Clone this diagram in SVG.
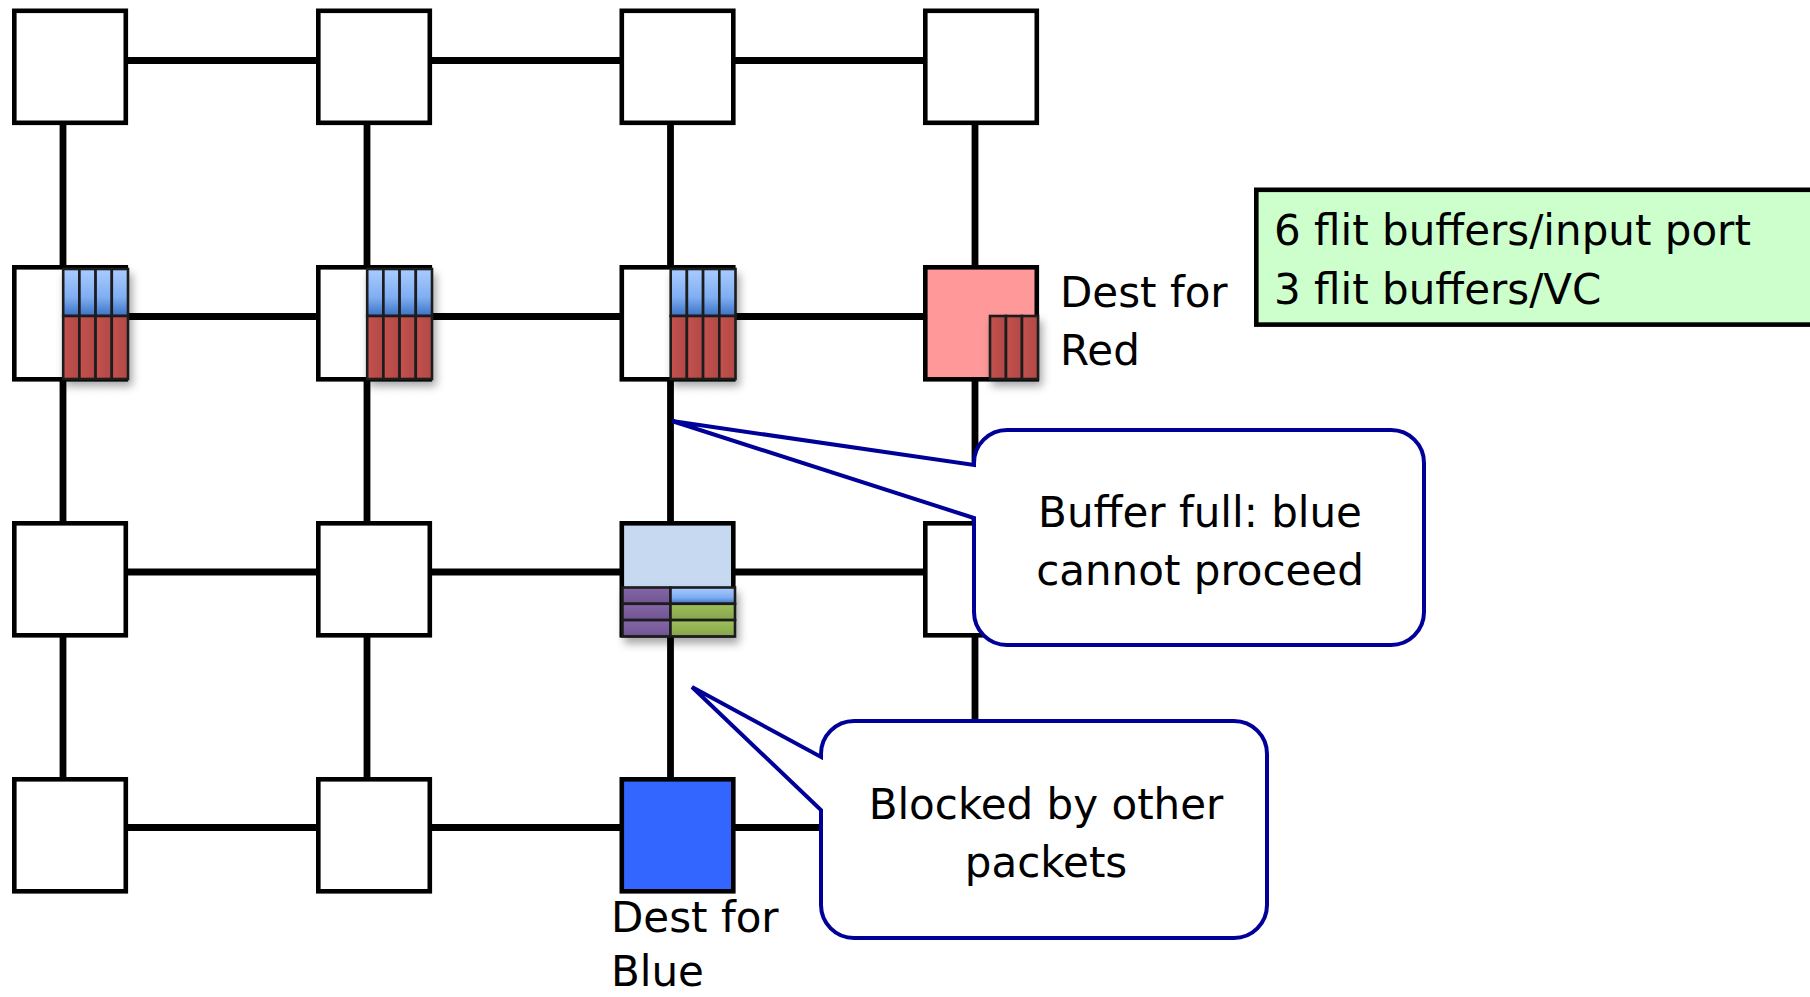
<svg xmlns="http://www.w3.org/2000/svg" width="1810" height="997" viewBox="0 0 1810 997">
<style>
.node{fill:#fff;stroke:#000;stroke-width:4.6}
.link{stroke:#000;stroke-width:6.8;fill:none}
.bar{stroke:#1c1c1c;stroke-width:2.6}
.blue{fill:url(#gBlue)}
.red{fill:url(#gRed)}
.purple{fill:url(#gPurple)}
.green{fill:url(#gGreen)}
.txt{font-family:"DejaVu Sans","Liberation Sans",sans-serif;font-size:42px;fill:#000}
.mid{text-anchor:middle}
.callout{fill:#fff;stroke:#000099;stroke-width:4;stroke-linejoin:miter}
</style>
<defs>
<linearGradient id="gBlue" x1="0" y1="0" x2="0" y2="1">
<stop offset="0" stop-color="#a9ccff"/><stop offset="0.6" stop-color="#80aef2"/><stop offset="1" stop-color="#3b72c4"/>
</linearGradient>
<linearGradient id="gRed" x1="0" y1="0" x2="1" y2="0">
<stop offset="0" stop-color="#c4524f"/><stop offset="1" stop-color="#b14946"/>
</linearGradient>
<linearGradient id="gPurple" x1="0" y1="0" x2="0" y2="1">
<stop offset="0" stop-color="#8566a8"/><stop offset="1" stop-color="#6f5590"/>
</linearGradient>
<linearGradient id="gGreen" x1="0" y1="0" x2="0" y2="1">
<stop offset="0" stop-color="#9fc05c"/><stop offset="1" stop-color="#86a54b"/>
</linearGradient>
<filter id="shadow" x="-20%" y="-20%" width="150%" height="150%">
<feDropShadow dx="3" dy="6" stdDeviation="4" flood-color="#000" flood-opacity="0.35"/>
</filter>
</defs>

<g id="connectors">
<line class="link" x1="63" y1="60.5" x2="975" y2="60.5"/>
<line class="link" x1="63" y1="316.5" x2="975" y2="316.5"/>
<line class="link" x1="63" y1="572" x2="975" y2="572"/>
<line class="link" x1="63" y1="827.5" x2="975" y2="827.5"/>
<line class="link" x1="63" y1="60.5" x2="63" y2="827.5"/>
<line class="link" x1="367" y1="60.5" x2="367" y2="827.5"/>
<line class="link" x1="670.5" y1="60.5" x2="670.5" y2="827.5"/>
<line class="link" x1="975" y1="60.5" x2="975" y2="827.5"/>
</g>

<g id="n11"><rect class="node" x="14.3" y="10.8" width="111.5" height="112"/></g>
<g id="n12"><rect class="node" x="318.3" y="10.8" width="111.5" height="112"/></g>
<g id="n13"><rect class="node" x="621.8" y="10.8" width="111.5" height="112"/></g>
<g id="n14"><rect class="node" x="925.3" y="10.8" width="111.5" height="112"/></g>

<g id="n21">
<rect class="node" x="14.3" y="267.3" width="111.5" height="112"/>
<g filter="url(#shadow)">
<rect class="bar blue" x="63.2" y="269" width="16.2" height="47"/>
<rect class="bar blue" x="79.4" y="269" width="16.2" height="47"/>
<rect class="bar blue" x="95.6" y="269" width="16.2" height="47"/>
<rect class="bar blue" x="111.8" y="269" width="16.2" height="47"/>
<rect class="bar red" x="63.2" y="316" width="16.2" height="63"/>
<rect class="bar red" x="79.4" y="316" width="16.2" height="63"/>
<rect class="bar red" x="95.6" y="316" width="16.2" height="63"/>
<rect class="bar red" x="111.8" y="316" width="16.2" height="63"/>
</g>
</g>
<g id="n22">
<rect class="node" x="318.3" y="267.3" width="111.5" height="112"/>
<g filter="url(#shadow)">
<rect class="bar blue" x="367.2" y="269" width="16.2" height="47"/>
<rect class="bar blue" x="383.4" y="269" width="16.2" height="47"/>
<rect class="bar blue" x="399.6" y="269" width="16.2" height="47"/>
<rect class="bar blue" x="415.8" y="269" width="16.2" height="47"/>
<rect class="bar red" x="367.2" y="316" width="16.2" height="63"/>
<rect class="bar red" x="383.4" y="316" width="16.2" height="63"/>
<rect class="bar red" x="399.6" y="316" width="16.2" height="63"/>
<rect class="bar red" x="415.8" y="316" width="16.2" height="63"/>
</g>
</g>
<g id="n23">
<rect class="node" x="621.8" y="267.3" width="111.5" height="112"/>
<g filter="url(#shadow)">
<rect class="bar blue" x="670.7" y="269" width="16.2" height="47"/>
<rect class="bar blue" x="686.9" y="269" width="16.2" height="47"/>
<rect class="bar blue" x="703.1" y="269" width="16.2" height="47"/>
<rect class="bar blue" x="719.3" y="269" width="16.2" height="47"/>
<rect class="bar red" x="670.7" y="316" width="16.2" height="63"/>
<rect class="bar red" x="686.9" y="316" width="16.2" height="63"/>
<rect class="bar red" x="703.1" y="316" width="16.2" height="63"/>
<rect class="bar red" x="719.3" y="316" width="16.2" height="63"/>
</g>
</g>
<g id="n24">
<rect class="node" x="925.3" y="267.3" width="111.5" height="112" style="fill:#ff9999"/>
<g filter="url(#shadow)">
<rect class="bar red" x="990" y="316" width="16" height="63"/>
<rect class="bar red" x="1006" y="316" width="16" height="63"/>
<rect class="bar red" x="1022" y="316" width="16" height="63"/>
</g>
</g>

<g id="n31"><rect class="node" x="14.3" y="523.3" width="111.5" height="112"/></g>
<g id="n32"><rect class="node" x="318.3" y="523.3" width="111.5" height="112"/></g>
<g id="n33">
<rect class="node" x="621.8" y="523.3" width="111.5" height="112" style="fill:#c6d9f1"/>
<g filter="url(#shadow)">
<rect class="bar purple" x="622.5" y="587.5" width="48" height="16.3"/>
<rect class="bar purple" x="622.5" y="603.8" width="48" height="16.3"/>
<rect class="bar purple" x="622.5" y="620.1" width="48" height="16.3"/>
<rect class="bar blue" x="670.5" y="587.5" width="64.5" height="16.3"/>
<rect class="bar green" x="670.5" y="603.8" width="64.5" height="16.3"/>
<rect class="bar green" x="670.5" y="620.1" width="64.5" height="16.3"/>
</g>
</g>
<g id="n34"><rect class="node" x="925.3" y="523.3" width="111.5" height="112"/></g>

<g id="n41"><rect class="node" x="14.3" y="779.3" width="111.5" height="112"/></g>
<g id="n42"><rect class="node" x="318.3" y="779.3" width="111.5" height="112"/></g>
<g id="n43"><rect class="node" x="621.8" y="779.3" width="111.5" height="112" style="fill:#3366ff"/></g>

<g id="label-red">
<text class="txt" x="1060" y="306.5">Dest for</text>
<text class="txt" x="1060" y="364.5">Red</text>
</g>
<g id="label-blue">
<text class="txt" x="611" y="932">Dest for</text>
<text class="txt" x="611" y="986">Blue</text>
</g>

<g id="legend">
<rect x="1256.3" y="189.8" width="600" height="134.8" style="fill:#ccffcc;stroke:#000;stroke-width:4.6"/>
<text class="txt" x="1274" y="245">6 flit buffers/input port</text>
<text class="txt" x="1274" y="303.5">3 flit buffers/VC</text>
</g>

<g id="callout-full">
<path class="callout" d="M1007,430 H1391 A33,33 0 0 1 1424,463 V612 A33,33 0 0 1 1391,645 H1007 A33,33 0 0 1 974,612 V518 L672,421 L974,465 V463 A33,33 0 0 1 1007,430 Z"/>
<text class="txt mid" x="1200" y="526.5">Buffer full: blue</text>
<text class="txt mid" x="1200" y="585">cannot proceed</text>
</g>

<g id="callout-blocked">
<path class="callout" d="M854,721 H1234 A33,33 0 0 1 1267,754 V905 A33,33 0 0 1 1234,938 H854 A33,33 0 0 1 821,905 V810 L692,687 L821,757 V754 A33,33 0 0 1 854,721 Z"/>
<text class="txt mid" x="1046" y="819">Blocked by other</text>
<text class="txt mid" x="1046" y="876.5">packets</text>
</g>
</svg>
